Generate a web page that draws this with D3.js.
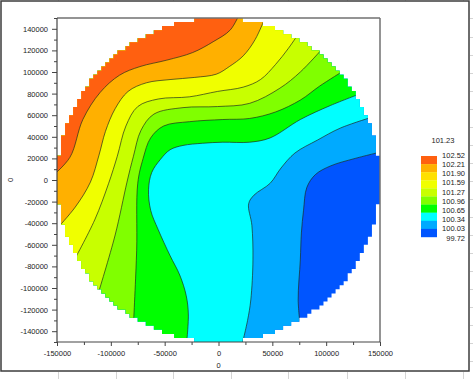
<!DOCTYPE html>
<html><head><meta charset="utf-8">
<script src="https://cdn.jsdelivr.net/npm/d3@7"></script>
<style>
body{margin:0;background:#fff}
svg{display:block}
text{font-family:"Liberation Sans",Arial,sans-serif}
</style>
</head><body><div id="chart"></div>
<script>
// ---------- data ----------
const xTickValues = [-150000, -100000, -50000, 0, 50000, 100000, 150000];
const xMinorTicks = [-125000, -75000, -25000, 25000, 75000, 125000];
const yTickValues = [-140000, -120000, -100000, -80000, -60000, -40000, -20000, 0, 20000, 40000, 60000, 80000, 100000, 120000, 140000];
const yMinorTicks = [-150000, -130000, -110000, -90000, -70000, -50000, -30000, -10000, 10000, 30000, 50000, 70000, 90000, 110000, 130000, 150000];
const xTitle = "0";
const yTitle = "0";
const legendTitle = "101.23";
const legendLabels = ["102.52", "102.21", "101.90", "101.59", "101.27", "100.96", "100.65", "100.34", "100.03", "99.72"];
const legendColors = ["#ff6010", "#ffb000", "#ffe000", "#f0ff00", "#c8ff00", "#80ff00", "#00ff00", "#00ffff", "#00aaff", "#0055ff"];

// contour lines (x, y in wafer units), ordered from the high (top-left) side to the low side
const contour1 = [[-155000,3000],[-138000,21000],[-126000,56000],[-110000,81000],[-92000,97000],[-73000,105000],[-48000,111000],[-24000,118000],[-5000,128000],[11000,139000],[20000,155000]];
const contour2 = [[-150000,-45000],[-133000,-25000],[-119000,-2000],[-111000,23000],[-105000,45000],[-96000,66000],[-84000,82000],[-67000,90000],[-45000,93000],[-22000,95000],[-2000,98000],[10000,105000],[23000,115000],[34000,130000],[44000,152000]];
const contour3 = [[-135000,-76000],[-115000,-37000],[-102000,-3000],[-94000,22000],[-86000,50000],[-75000,68000],[-56000,75000],[-27000,77000],[-1000,82000],[23000,86000],[39000,93000],[53000,107000],[65000,122000],[76000,138000]];
const contour4 = [[-112000,-106000],[-96000,-51000],[-85000,-2000],[-79000,22000],[-72000,46000],[-60000,61000],[-33000,67000],[-1000,68000],[29000,71000],[57000,85000],[76000,100000],[96000,121000]];
const contour5 = [[-79000,-134000],[-76000,-65000],[-75000,-3000],[-70000,20000],[-63000,39000],[-51000,50000],[-27000,54000],[4000,56000],[29000,57000],[53000,63000],[76000,74000],[94000,87000],[116000,101000]];
const contour6 = [[-30000,-155000],[-28000,-125000],[-30000,-107000],[-36000,-88000],[-45000,-70000],[-56000,-46000],[-63000,-28000],[-65000,-9000],[-62000,7000],[-54000,19000],[-45000,28000],[-33000,32000],[-15000,34000],[4000,35000],[29000,35000],[48000,39000],[76000,56000],[104000,69000],[132000,80000]];
const contour7 = [[21000,-156000],[27000,-130000],[30000,-111000],[32000,-74000],[31000,-42000],[28000,-22000],[33000,-14000],[48000,-3000],[58000,11000],[71000,25000],[92000,37000],[113000,48000],[142000,58000]];
const contour8 = [[76000,-136000],[74000,-111000],[76000,-74000],[77000,-49000],[79000,-28000],[82000,-7000],[90000,5000],[104000,13000],[127000,20000],[155000,27000]];
const contourLines = [contour1, contour2, contour3, contour4, contour5, contour6, contour7, contour8];
const contourLevels = [102.21, 101.90, 101.59, 101.27, 100.96, 100.65, 100.34, 100.03];
// colour of the band on the high side of each line; lowest band colour
const bandColors = ["#ff6010", "#ffb000", "#f0ff00", "#c8ff00", "#80ff00", "#00ff00", "#00ffff", "#00aaff"];
const lowestBandColor = "#0055ff";

// wafer geometry
const waferRadius = 150000;
const gridCells = 80;
const extent = [-150000, 150000];

// ---------- drawing ----------
const W = 473, H = 379;
const svg = d3.select("#chart").append("svg").attr("width", W).attr("height", H);
svg.append("rect").attr("width", W).attr("height", H).attr("fill", "#fff");

// faint spreadsheet grid behind the chart picture
const bg = svg.append("g").attr("stroke", "#d4d4d4").attr("stroke-width", 1);
[58,116,173,231,288,347,405,463].forEach(v => {
  bg.append("line").attr("x1", v + 0.5).attr("x2", v + 0.5).attr("y1", 372).attr("y2", H);
  bg.append("line").attr("x1", v + 0.5).attr("x2", v + 0.5).attr("y1", 0).attr("y2", 1);
});
[18,37,55,73,91,109,127,145,163,181,199,217,235,253,271,289,307,325,343,361].forEach(v => {
  bg.append("line").attr("x1", 470).attr("x2", W).attr("y1", v + 0.5).attr("y2", v + 0.5);
});

// outer frame
svg.append("rect").attr("x", 1).attr("y", 1).attr("width", 468).attr("height", 370)
  .attr("fill", "#fff").attr("stroke", "#3c3c3c").attr("stroke-width", 1.5);

const x = d3.scaleLinear().domain(extent).range([57, 380]);
const y = d3.scaleLinear().domain(extent).range([342, 18]);

// stepped wafer outline (single polygon, no seams)
const cell = (extent[1] - extent[0]) / gridCells;
const rows = [];
for (let j = gridCells - 1; j >= 0; j--) {
  const yc = extent[0] + (j + 0.5) * cell;
  const cols = [];
  for (let i = 0; i < gridCells; i++) {
    const xc = extent[0] + (i + 0.5) * cell;
    if (xc * xc + yc * yc <= waferRadius * waferRadius) cols.push(i);
  }
  if (!cols.length) continue;
  rows.push({
    x0: extent[0] + cols[0] * cell,
    x1: extent[0] + (cols[cols.length - 1] + 1) * cell,
    yTop: extent[0] + (j + 1) * cell,
    yBot: extent[0] + j * cell
  });
}
const outline = [];
rows.forEach(r => { outline.push([r.x1, r.yTop], [r.x1, r.yBot]); });
rows.slice().reverse().forEach(r => { outline.push([r.x0, r.yBot], [r.x0, r.yTop]); });
const outlinePath = "M" + outline.map(p => x(p[0]).toFixed(2) + "," + y(p[1]).toFixed(2)).join("L") + "Z";
const defs = svg.append("defs");
defs.append("clipPath").attr("id", "wafer").append("path").attr("d", outlinePath);

const lineGen = d3.line().x(d => x(d[0])).y(d => y(d[1])).curve(d3.curveCatmullRom.alpha(0.5));
function regionPath(pts) {
  const s = pts[0], e = pts[pts.length - 1];
  const a0 = Math.atan2(e[1], e[0]);
  let a1 = Math.atan2(s[1], s[0]);
  while (a1 < a0) a1 += 2 * Math.PI;
  const n = Math.ceil((a1 - a0) / (Math.PI / 18));
  const far = 320000;
  let p = lineGen(pts);
  for (let k = 0; k <= n; k++) {
    const a = a0 + (a1 - a0) * k / n;
    p += "L" + x(far * Math.cos(a)) + "," + y(far * Math.sin(a));
  }
  return p + "Z";
}

const map = svg.append("g").attr("clip-path", "url(#wafer)");
map.append("rect").attr("x", x(extent[0])).attr("y", y(extent[1]))
  .attr("width", x(extent[1]) - x(extent[0])).attr("height", y(extent[0]) - y(extent[1]))
  .attr("fill", lowestBandColor);
for (let k = contourLines.length - 1; k >= 0; k--) {
  map.append("path").attr("d", regionPath(contourLines[k])).attr("fill", bandColors[k])
    .attr("data-level", contourLevels[k]);
}
contourLines.forEach(pts => {
  map.append("path").attr("d", lineGen(pts)).attr("fill", "none")
    .attr("stroke", "#1e2a1e").attr("stroke-opacity", 0.85).attr("stroke-width", 0.8);
});

// axes
const fs = "7.5px";
function styleAxis(g) {
  g.select(".domain").remove();
  g.selectAll(".tick line").attr("stroke", "#444");
  g.selectAll("text").attr("font-size", fs).attr("fill", "#222")
    .style("font-family", '"Liberation Sans", Arial, sans-serif');
}
const gx = svg.append("g").attr("transform", `translate(0,${y(extent[0])})`);
gx.call(d3.axisBottom(x).tickValues(xTickValues).tickSize(4).tickPadding(5).tickFormat(d => String(d)));
styleAxis(gx);
const gxm = svg.append("g").attr("transform", `translate(0,${y(extent[0])})`);
gxm.call(d3.axisBottom(x).tickValues(xMinorTicks).tickSize(3).tickFormat(""));
styleAxis(gxm);

const gy = svg.append("g").attr("transform", `translate(${x(extent[0])},0)`);
gy.call(d3.axisLeft(y).tickValues(yTickValues).tickSize(5).tickPadding(4).tickFormat(d => String(d)));
styleAxis(gy);
const gym = svg.append("g").attr("transform", `translate(${x(extent[0])},0)`);
gym.call(d3.axisLeft(y).tickValues(yMinorTicks).tickSize(3).tickFormat(""));
styleAxis(gym);

// plot frame
svg.append("line").attr("x1", x(extent[0])).attr("x2", x(extent[1])).attr("y1", y(extent[1])).attr("y2", y(extent[1]))
  .attr("stroke", "#707070").attr("stroke-width", 1.3);
svg.append("line").attr("x1", x(extent[1])).attr("x2", x(extent[1])).attr("y1", y(extent[1])).attr("y2", y(extent[0]))
  .attr("stroke", "#707070").attr("stroke-width", 1.5);
svg.append("line").attr("x1", x(extent[0])).attr("x2", x(extent[0])).attr("y1", y(extent[1])).attr("y2", y(extent[0]))
  .attr("stroke", "#444").attr("stroke-width", 1.2);
svg.append("line").attr("x1", x(extent[0])).attr("x2", x(extent[1])).attr("y1", y(extent[0])).attr("y2", y(extent[0]))
  .attr("stroke", "#444").attr("stroke-width", 1.2);

// axis titles
svg.append("text").attr("x", x(0)).attr("y", 368).attr("text-anchor", "middle")
  .attr("font-size", fs).attr("fill", "#222").text(xTitle);
svg.append("text").attr("transform", `translate(13,${y(0)}) rotate(-90)`).attr("text-anchor", "middle")
  .attr("font-size", fs).attr("fill", "#222").text(yTitle);

// legend
const lg = svg.append("g");
lg.append("text").attr("x", 443).attr("y", 143).attr("text-anchor", "middle")
  .attr("font-size", fs).attr("fill", "#222").text(legendTitle);
const boxTop = 156, boxH = 8.1;
legendColors.forEach((c, i) => {
  lg.append("rect").attr("x", 421).attr("y", boxTop + i * boxH).attr("width", 16).attr("height", boxH + 0.2).attr("fill", c);
});
legendLabels.forEach((t, i) => {
  lg.append("text").attr("x", 465).attr("y", 155 + i * 9.2 + 2.7).attr("text-anchor", "end")
    .attr("font-size", fs).attr("fill", "#222").text(t);
});
</script>
</body></html>
